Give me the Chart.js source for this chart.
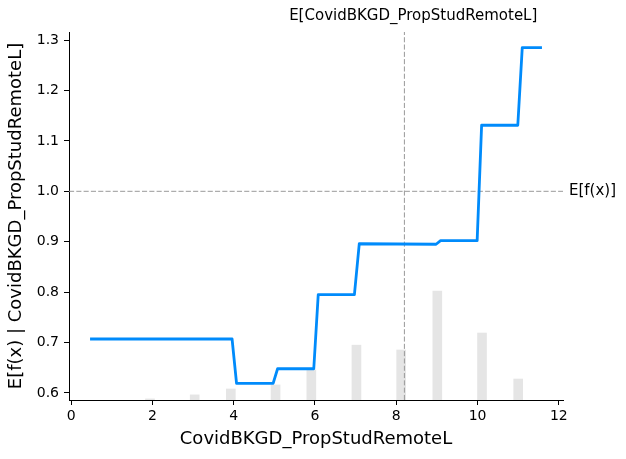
<!DOCTYPE html>
<html>
<head>
<meta charset="utf-8">
<script src="https://cdn.jsdelivr.net/npm/chart.js@4.4.1/dist/chart.umd.min.js"></script>
<style>
    body { margin: 0; background: #fff; }
    canvas { display: block; }
</style>
</head>
<body>
<canvas id="pdpChart" width="626" height="459"></canvas>
<script>
// ---- data ----
var featureName = 'CovidBKGD_PropStudRemoteL';

// partial dependence curve (corners of the steps)
var curveX = [0.5, 3.96, 4.07, 4.97, 5.08, 5.97, 6.08, 6.97, 7.09, 8.98, 9.09, 9.99, 10.10, 10.99, 11.10, 11.55];
var curveY = [0.707, 0.707, 0.619, 0.619, 0.648, 0.648, 0.795, 0.795, 0.896, 0.895, 0.902, 0.902, 1.131, 1.131, 1.285, 1.285];

// histogram of the feature (bin centre, share of the samples)
var histX = [1.94, 3.04, 3.93, 5.03, 5.91, 7.02, 8.12, 9.01, 10.11, 11.0];
var histShare = [0.003, 0.014, 0.030, 0.041, 0.082, 0.149, 0.136, 0.296, 0.182, 0.057];

var meanX = 8.2;      // E[feature]
var meanY = 1.0;      // E[f(x)]

var xTicks = [0, 2, 4, 6, 8, 10, 12];
var yTicks = [0.6, 0.7, 0.8, 0.9, 1.0, 1.1, 1.2, 1.3];

var xMin = -0.0525, xMax = 12.1025;
var yMin = 0.586, yMax = 1.316;

Chart.defaults.font.family = "'DejaVu Sans', sans-serif";
Chart.defaults.color = '#000';

function pairs(xs, ys) {
    return xs.map(function (x, i) { return { x: x, y: ys[i] }; });
}

// labels for the two expected values, placed like shap's twin axes
var expectedLabels = {
    id: 'expectedLabels',
    afterDraw: function (chart) {
        var ctx = chart.ctx;
        var top = chart.scales.xTop;
        var y = chart.scales.y;
        ctx.save();
        ctx.fillStyle = '#000';
        ctx.font = "15px 'DejaVu Sans'";
        ctx.textBaseline = 'middle';
        ctx.textAlign = 'center';
        ctx.fillText('E[' + featureName + ']', top.getPixelForValue(meanX), 16);
        ctx.textAlign = 'left';
        ctx.fillText('E[f(x)]', chart.chartArea.right + 6, y.getPixelForValue(meanY));
        ctx.restore();
    }
};

var ctx = document.getElementById('pdpChart').getContext('2d');
new Chart(ctx, {
    type: 'line',
    data: {
        datasets: [{
            label: 'partial dependence',
            data: pairs(curveX, curveY),
            borderColor: '#008bfb',
            borderWidth: 2.8,
            borderCapStyle: 'square',
            borderJoinStyle: 'round',
            pointRadius: 0,
            tension: 0,
            fill: false,
            order: 0
        }, {
            label: 'E[f(x)]',
            data: [{ x: xMin, y: meanY }, { x: xMax, y: meanY }],
            borderColor: '#999999',
            borderWidth: 1,
            borderDash: [5.1, 2.2],
            pointRadius: 0,
            order: 1
        }, {
            label: 'E[feature]',
            data: [{ x: meanX, y: yMin }, { x: meanX, y: yMax }],
            borderColor: '#999999',
            borderWidth: 1,
            borderDash: [5.1, 2.2],
            pointRadius: 0,
            order: 1
        }, {
            type: 'bar',
            label: 'histogram',
            data: pairs(histX, histShare),
            yAxisID: 'yh',
            backgroundColor: 'rgba(0, 0, 0, 0.1)',
            borderWidth: 0,
            barThickness: 9,
            order: 2
        }]
    },
    options: {
        responsive: false,
        animation: false,
        layout: { padding: { top: 32, right: 63, left: 0, bottom: 0 } },
        plugins: {
            legend: { display: false },
            tooltip: { enabled: false }
        },
        scales: {
            x: {
                type: 'linear',
                min: xMin,
                max: xMax,
                offset: false,
                afterBuildTicks: function (scale) {
                    scale.ticks = xTicks.map(function (v) { return { value: v }; });
                },
                afterFit: function (scale) { scale.height = 59; },
                ticks: {
                    autoSkip: false,
                    maxRotation: 0,
                    padding: 3,
                    font: { size: 14 },
                    callback: function (v) { return String(v); }
                },
                grid: {
                    offset: false,
                    drawOnChartArea: false,
                    drawTicks: true,
                    tickLength: 5,
                    tickColor: '#000'
                },
                border: { display: true, color: '#000', width: 1 },
                title: {
                    display: true,
                    text: featureName,
                    font: { size: 18 },
                    padding: { top: 0, bottom: 9 }
                }
            },
            xTop: {
                type: 'linear',
                position: 'top',
                display: false,
                min: 0.5,
                max: 11.55
            },
            y: {
                type: 'linear',
                min: yMin,
                max: yMax,
                afterBuildTicks: function (scale) {
                    scale.ticks = yTicks.map(function (v) { return { value: v }; });
                },
                afterFit: function (scale) { scale.width = 69; },
                ticks: {
                    padding: 5,
                    font: { size: 14 },
                    callback: function (v) { return v.toFixed(1); }
                },
                grid: {
                    drawOnChartArea: false,
                    drawTicks: true,
                    tickLength: 5,
                    tickColor: '#000'
                },
                border: { display: true, color: '#000', width: 1 },
                title: {
                    display: true,
                    text: 'E[f(x) | ' + featureName + ']',
                    font: { size: 18 },
                    padding: { top: 6, bottom: 0 }
                }
            },
            yh: {
                type: 'linear',
                display: false,
                min: 0,
                max: 1
            }
        }
    },
    plugins: [expectedLabels]
});
</script>
</body>
</html>
